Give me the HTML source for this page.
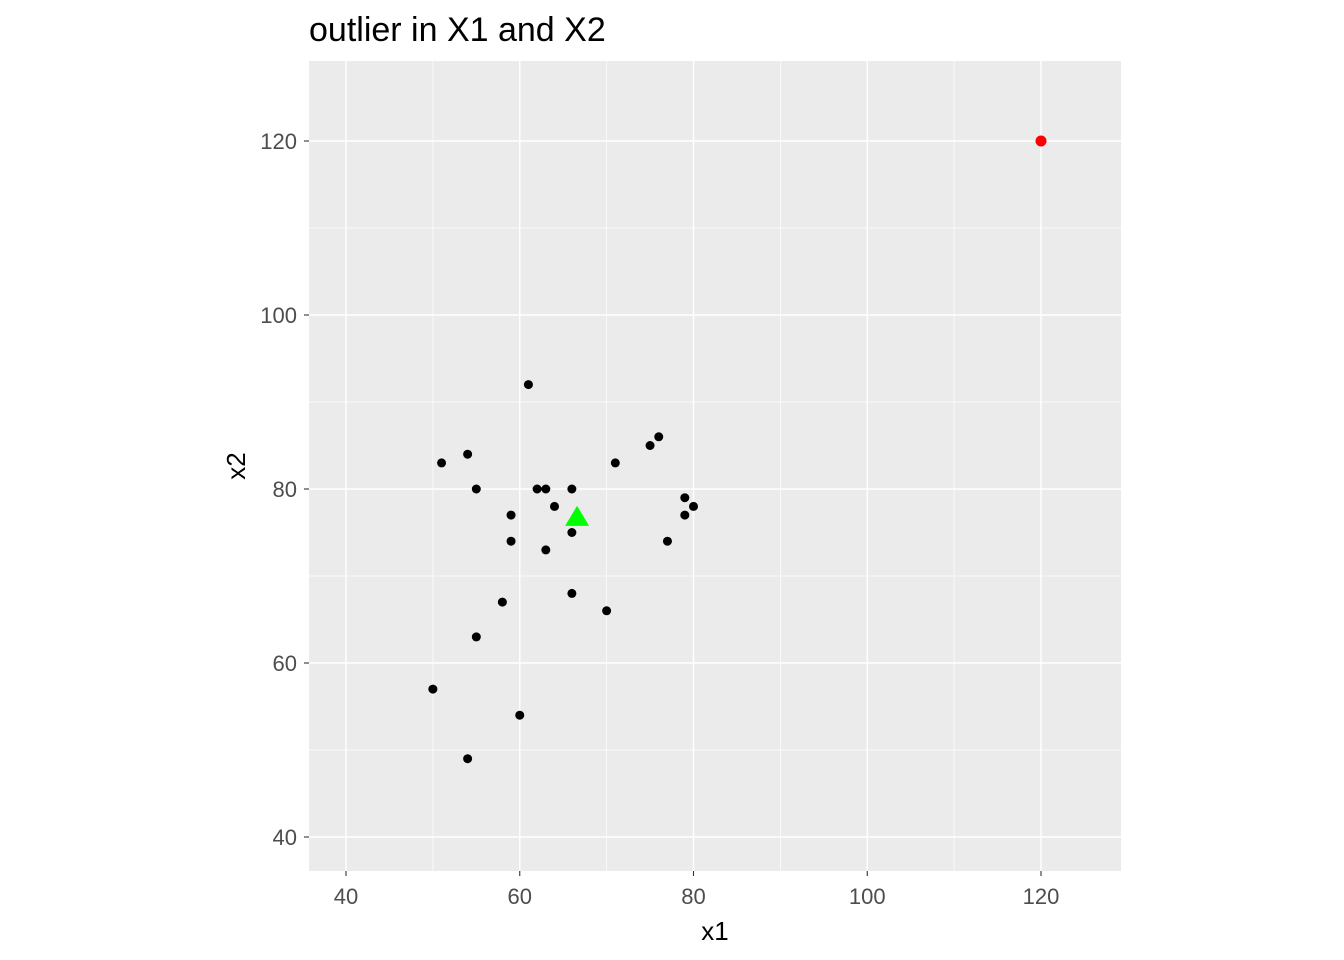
<!DOCTYPE html>
<html><head><meta charset="utf-8"><style>
body{margin:0;background:#fff;}
svg{display:block;font-family:"Liberation Sans",sans-serif;}
</style></head><body>
<svg id="chart" width="1344" height="960"></svg>
<script>
const xValues=[61,51,54,55,59,59,62,63,64,66,66,63,71,75,76,79,79,80,77,58,66,70,55,50,60,54];
const yValues=[92,83,84,80,77,74,80,80,78,80,75,73,83,85,86,79,77,78,74,67,68,66,63,57,54,49];
const outlierX=[120];
const outlierY=[120];
const meanX=[66.6];
const meanY=[76.8];
const xTicks=[40,60,80,100,120];
const yTicks=[40,60,80,100,120];
const NS="http://www.w3.org/2000/svg";
const svg=document.getElementById('chart');
const L=309,R=1121,T=61,B=871;
const sx=v=>346+(v-40)*(1041-346)/80;
const sy=v=>837-(v-40)*(837-141)/80;
function el(tag,attrs,parent){const e=document.createElementNS(NS,tag);for(const k in attrs)e.setAttribute(k,attrs[k]);(parent||svg).appendChild(e);return e;}
const bg=el('rect',{x:L,y:T,width:R-L,height:B-T,fill:'#EBEBEB'});


for(let i=0;i<xTicks.length-1;i++){const v=(xTicks[i]+xTicks[i+1])/2;
 const g=el('line',{x1:sx(v),x2:sx(v),y1:T,y2:B,stroke:'#fff','stroke-width':0.7});
 
 
 const h=el('line',{x1:L,x2:R,y1:sy(v),y2:sy(v),stroke:'#fff','stroke-width':0.7});
 
 }
xTicks.forEach(v=>{
 const g=el('line',{x1:sx(v),x2:sx(v),y1:T,y2:B,stroke:'#fff','stroke-width':1.4});
 
 
 const tk=el('line',{x1:sx(v),x2:sx(v),y1:B,y2:B+5,stroke:'#333','stroke-width':1.1});
 
 
 const t=el('text',{x:sx(v),y:B+33,'text-anchor':'middle','font-size':22,fill:'#4D4D4D'});t.textContent=v;
 
 
});
yTicks.forEach(v=>{
 const g=el('line',{x1:L,x2:R,y1:sy(v),y2:sy(v),stroke:'#fff','stroke-width':1.4});
 
 
 const tk=el('line',{x1:L-5,x2:L,y1:sy(v),y2:sy(v),stroke:'#333','stroke-width':1.1});
 
 
 const t=el('text',{x:L-12,y:sy(v)+8,'text-anchor':'end','font-size':22,fill:'#4D4D4D'});t.textContent=v;
 
 
});
xValues.forEach((v,i)=>{
 const c=el('circle',{cx:sx(v),cy:sy(yValues[i]),r:4.5,fill:'#000'});
 
 
});
outlierX.forEach((v,i)=>{
 const c=el('circle',{cx:sx(v),cy:sy(outlierY[i]),r:5.5,fill:'#FF0000'});
 
 
});
meanX.forEach((v,i)=>{
 const cx=sx(v),cy=sy(meanY[i]);
 const p=el('polygon',{points:`${cx},${cy-11} ${cx-12},${cy+9} ${cx+12},${cy+9}`,fill:'#00FF00'});
 
 
});
const title=el('text',{x:309,y:41,'font-size':34,fill:'#000'});title.textContent='outlier in X1 and X2';


const xt=el('text',{x:(L+R)/2,y:940,'text-anchor':'middle','font-size':26,fill:'#000'});xt.textContent='x1';


const yt=el('text',{x:0,y:0,'text-anchor':'middle','font-size':26,fill:'#000',transform:`translate(245,${(T+B)/2}) rotate(-90)`});yt.textContent='x2';


</script>
</body></html>
